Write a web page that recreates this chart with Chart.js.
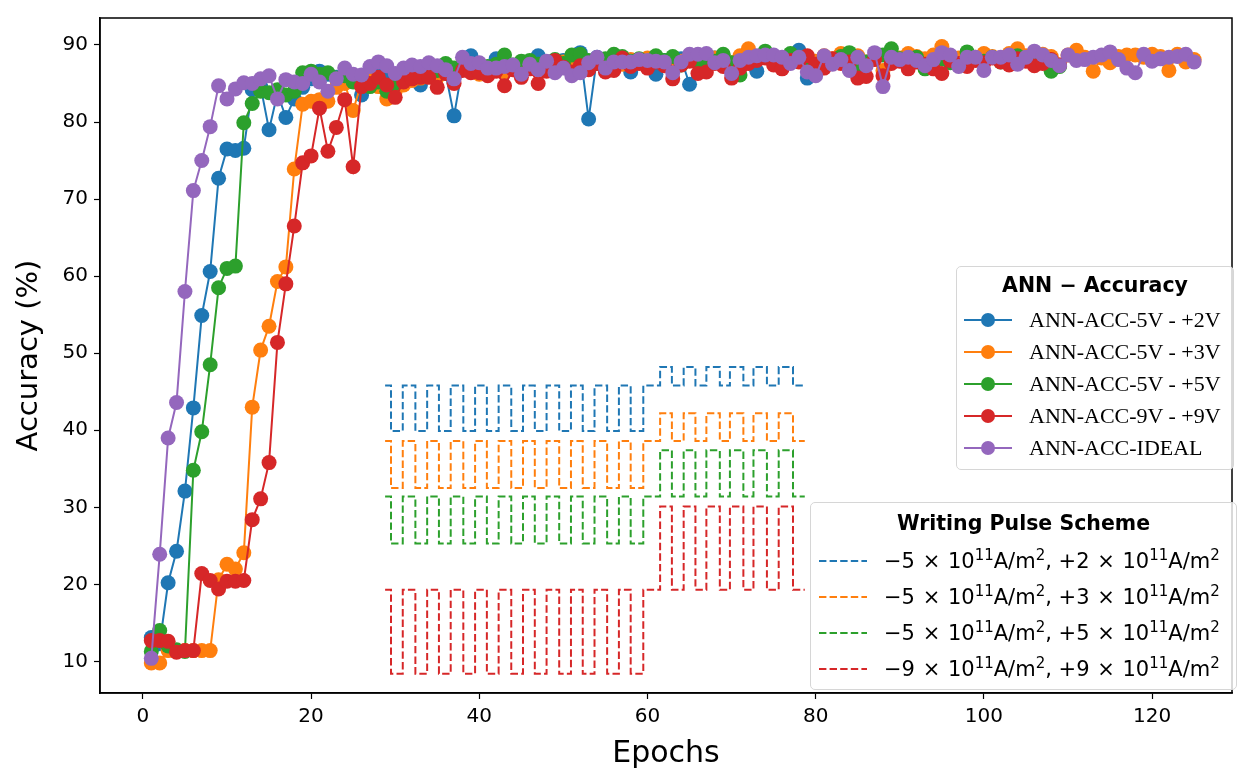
<!DOCTYPE html>
<html lang="en">
<head>
    <meta charset="UTF-8">
    <title>ANN Accuracy</title>
    <script src="https://cdn.jsdelivr.net/npm/chart.js"></script>
    <style>
        html, body { margin: 0; padding: 0; background: #fff; }
        #wrap { position: relative; width: 1243px; height: 772px; }
        #chart { position: absolute; left: 0; top: 0; }
        .legend { position: absolute; background: rgba(255,255,255,0.8); border: 1.5px solid #d6d6d6; border-radius: 5px; box-sizing: border-box; }
        .legend .title { position: absolute; left: 0; right: 0; text-align: center; font-family: "DejaVu Sans", sans-serif; font-weight: bold; font-size: 20.5px; line-height: 24px; }
        .legend .row { position: absolute; display: flex; align-items: center; white-space: nowrap; height: 30px; }
        .legend .row svg { flex: none; }
        .acc .row > span { font-family: "Liberation Serif", serif; font-size: 22px; margin-left: 17px; }
        .pulse .row > span { font-family: "DejaVu Sans", sans-serif; font-size: 21px; margin-left: 17px; }
        .pulse .x { margin: 0 1px; }
        .pulse sup { font-size: 15px; vertical-align: 8px; line-height: 0; }
    </style>
</head>
<body>
<div id="wrap">
    <canvas id="chart" width="1243" height="772"></canvas>
    <div class="legend acc" id="legAcc" style="left:956px; top:266px; width:278px; height:204px;"></div>
    <div class="legend pulse" id="legPulse" style="left:810px; top:502px; width:427px; height:188px;"></div>
</div>

<script>
    // ---- datos ----
    const xTicks = [0, 20, 40, 60, 80, 100, 120];
    const yTicks = [10, 20, 30, 40, 50, 60, 70, 80, 90];

    const seriesNames = ['ANN-ACC-5V - +2V', 'ANN-ACC-5V - +3V', 'ANN-ACC-5V - +5V', 'ANN-ACC-9V - +9V', 'ANN-ACC-IDEAL'];
    const seriesColors = ['#1f77b4', '#ff7f0e', '#2ca02c', '#d62728', '#9467bd'];

    // epoca 1..79
    const acc5v2v = [13.1, 12.3, 20.2, 24.3, 32.1, 42.9, 54.9, 60.6, 72.7, 76.5,
        76.3, 76.6, 84.2, 84.6, 79.0, 83.7, 80.6, 83.0, 84.5, 85.6,
        86.6, 86.2, 85.8, 86.3, 85.6, 83.5, 85.9, 86.3, 85.5, 85.9,
        86.2, 85.8, 84.8, 86.5, 86.8, 86.3, 80.8, 87.2, 88.6, 87.3,
        86.9, 88.2, 87.5, 87.2, 87.6, 87.0, 88.6, 87.8, 87.4, 88.0,
        87.6, 89.0, 80.4, 88.4, 87.8, 88.1, 87.6, 86.5, 88.0, 87.7,
        86.2, 88.0, 87.6, 88.2, 84.9, 88.0, 87.4, 88.3, 87.9, 87.5,
        88.2, 88.0, 86.6, 88.6, 88.2, 88.0, 88.6, 89.3, 85.7];

    // epoca 1..125
    const acc5v3v = [9.8, 9.8, 11.4, 11.3, 11.4, 11.4, 11.4, 11.4, 20.6, 22.6,
        22.0, 24.1, 43.0, 50.4, 53.5, 59.3, 61.2, 73.9, 82.3, 82.7,
        82.9, 82.7, 84.5, 85.0, 81.5, 85.2, 85.8, 84.6, 83.0, 84.0,
        84.8, 85.4, 85.7, 86.0, 85.8, 86.4, 85.9, 86.8, 86.6, 86.2,
        86.8, 87.0, 86.5, 87.2, 86.9, 87.4, 87.0, 87.6, 87.3, 87.8,
        87.2, 88.0, 87.6, 88.2, 87.7, 88.0, 87.5, 88.1, 87.8, 88.3,
        88.0, 87.6, 88.2, 87.9, 88.5, 88.0, 87.5, 88.3, 88.0, 87.7,
        88.6, 89.5, 88.2, 88.8, 88.4, 88.0, 88.6, 88.2, 88.5, 87.9,
        88.6, 88.2, 88.9, 88.3, 88.6, 87.8, 88.4, 86.7, 88.7, 88.3,
        88.9, 88.5, 88.2, 88.7, 89.8, 88.6, 88.3, 88.8, 88.4, 88.9,
        88.5, 88.3, 88.9, 89.5, 88.6, 88.3, 88.8, 88.5, 87.4, 88.7,
        89.3, 88.4, 86.6, 88.3, 87.7, 88.5, 88.7, 88.7, 88.4, 88.8,
        88.5, 86.7, 88.8, 87.8, 88.1];

    // epoca 1..109
    const acc5v5v = [11.3, 14.0, 12.0, 11.5, 11.3, 34.8, 39.8, 48.5, 58.5, 61.0,
        61.3, 79.9, 82.4, 84.0, 83.8, 84.2, 83.5, 84.0, 86.4, 86.6,
        86.2, 86.4, 85.7, 86.0, 85.2, 85.8, 84.6, 85.2, 84.0, 85.0,
        85.6, 86.1, 86.5, 86.2, 86.7, 87.6, 87.0, 87.3, 87.0, 86.8,
        87.2, 87.5, 88.7, 87.4, 87.9, 88.0, 87.5, 87.8, 88.1, 87.6,
        88.7, 88.8, 88.0, 87.6, 88.2, 88.8, 88.5, 87.9, 88.2, 87.8,
        88.6, 88.0, 88.5, 87.4, 88.0, 87.7, 88.2, 87.9, 88.8, 87.7,
        86.1, 87.8, 88.4, 89.2, 88.3, 87.9, 88.9, 88.4, 87.8, 87.2,
        88.3, 87.9, 88.5, 89.0, 87.0, 87.8, 88.4, 88.7, 89.5, 88.2,
        87.9, 88.4, 86.9, 87.7, 88.2, 87.7, 87.3, 89.1, 88.3, 87.9,
        88.4, 87.8, 88.2, 88.6, 88.0, 87.5, 88.3, 86.6, 87.2];

    // epoca 1..109
    const acc9v9v = [12.7, 12.7, 12.6, 11.2, 11.4, 11.4, 21.4, 20.5, 19.4, 20.4,
        20.4, 20.5, 28.4, 31.1, 35.8, 51.4, 59.0, 66.5, 74.7, 75.6,
        81.8, 76.2, 79.3, 82.9, 74.2, 84.6, 85.0, 85.8, 84.8, 83.2,
        85.2, 85.6, 85.8, 85.8, 84.5, 86.3, 85.0, 86.7, 86.4, 86.4,
        86.0, 86.6, 84.7, 86.8, 85.8, 86.9, 85.0, 86.6, 88.0, 87.1,
        86.5, 87.3, 86.8, 87.6, 86.5, 86.7, 88.3, 87.2, 87.6, 87.0,
        87.8, 87.3, 85.6, 87.4, 87.9, 86.3, 86.5, 87.6, 87.2, 85.7,
        87.0, 87.6, 88.0, 88.3, 87.4, 86.9, 88.0, 87.8, 88.6, 87.5,
        87.0, 88.2, 87.6, 87.8, 85.7, 85.9, 88.1, 86.0, 87.6, 87.9,
        86.9, 87.8, 87.5, 86.9, 86.3, 88.0, 87.6, 87.2, 88.0, 87.7,
        88.3, 87.8, 87.4, 88.2, 87.9, 87.3, 87.6, 88.1, 87.4];

    // epoca 1..125
    const accIdeal = [10.4, 23.9, 39.0, 43.6, 58.0, 71.1, 75.0, 79.4, 84.7, 83.0,
        84.3, 85.1, 85.0, 85.6, 86.0, 83.0, 85.5, 85.2, 85.0, 86.2,
        85.2, 84.0, 85.6, 87.0, 86.2, 86.1, 87.2, 87.8, 87.3, 86.3,
        87.0, 87.4, 87.2, 87.7, 87.3, 86.8, 85.6, 88.4, 87.6, 87.7,
        87.0, 87.0, 87.2, 87.4, 86.2, 87.5, 86.8, 87.9, 86.4, 87.0,
        86.0, 86.4, 87.7, 88.4, 87.0, 87.8, 87.8, 87.8, 88.1, 88.0,
        87.9, 87.8, 86.4, 87.8, 88.8, 88.8, 88.9, 87.7, 88.0, 86.3,
        88.0, 88.4, 88.6, 88.7, 88.7, 88.4, 87.6, 88.4, 86.5, 86.0,
        88.6, 87.5, 88.1, 86.7, 88.4, 87.3, 89.0, 84.6, 88.4, 88.1,
        88.4, 88.0, 87.3, 88.1, 89.0, 88.7, 87.2, 88.4, 88.4, 86.7,
        88.4, 88.4, 88.7, 87.5, 88.4, 89.2, 88.7, 88.0, 87.3, 88.7,
        88.0, 88.1, 88.4, 88.7, 89.1, 88.1, 87.0, 86.4, 88.8, 87.9,
        88.2, 88.4, 88.5, 88.8, 87.8];

    const seriesValues = [acc5v2v, acc5v3v, acc5v5v, acc9v9v, accIdeal];

    // esquema de pulsos: epocas de cada flanco y nivel (0 = bajo A, 1 = alto A / bajo B, 2 = alto B)
    const pulseEdges = [28.8, 29.5, 30.9, 32.4, 33.8, 35.2, 36.6, 38.1, 39.5, 40.9,
        42.3, 43.8, 45.2, 46.6, 48.0, 49.5, 50.9, 52.3, 53.7, 55.2,
        56.6, 58.0, 59.5, 61.5, 62.9, 64.3, 65.7, 67.0, 68.6, 69.8,
        71.4, 72.6, 74.2, 75.6, 77.3, 78.7];
    const pulseState = [1, 0, 1, 0, 1, 0, 1, 0, 1, 0,
        1, 0, 1, 0, 1, 0, 1, 0, 1, 0,
        1, 0, 1, 2, 1, 2, 1, 2, 1, 2,
        1, 2, 1, 2, 1, 1];
    const pulseLevelsBlue = [39.9, 45.8, 48.2];
    const pulseLevelsOrange = [32.5, 38.6, 42.2];
    const pulseLevelsGreen = [25.3, 31.4, 37.4];
    const pulseLevelsRed = [8.4, 19.3, 30.1];
    const pulseLevels = [pulseLevelsBlue, pulseLevelsOrange, pulseLevelsGreen, pulseLevelsRed];
    const pulseNeg = [5, 5, 5, 9];
    const pulsePos = [2, 3, 5, 9];

    // ---- construccion de datasets ----
    const datasets = [];
    seriesValues.forEach((vals, s) => {
        datasets.push({
            label: seriesNames[s],
            data: vals.map((v, i) => ({ x: i + 1, y: v })),
            borderColor: seriesColors[s],
            backgroundColor: seriesColors[s],
            borderWidth: 2,
            pointRadius: 7.5,
            pointBorderWidth: 0,
            pointBackgroundColor: seriesColors[s],
            order: seriesValues.length - s
        });
    });
    pulseLevels.forEach((lv, p) => {
        datasets.push({
            label: 'pulse' + p,
            data: pulseEdges.map((x, i) => ({ x: x, y: lv[pulseState[i]] })),
            borderColor: seriesColors[p],
            borderWidth: 2,
            borderDash: [7.4, 3.2],
            pointRadius: 0,
            stepped: 'before',
            order: 10
        });
    });

    const framePlugin = {
        id: 'frame',
        afterDatasetsDraw(chart) {
            const a = chart.chartArea, ctx = chart.ctx;
            ctx.save();
            ctx.strokeStyle = '#000';
            ctx.lineWidth = 1.5;
            ctx.strokeRect(a.left, a.top, a.right - a.left, a.bottom - a.top);
            ctx.restore();
        }
    };

    const tickFont = { family: 'DejaVu Sans', size: 20 };
    new Chart(document.getElementById('chart'), {
        type: 'line',
        data: { datasets: datasets },
        options: {
            responsive: false,
            animation: false,
            layout: { padding: { left: 0, right: 11, top: 12, bottom: 0 } },
            plugins: { legend: { display: false }, tooltip: { enabled: false } },
            scales: {
                x: {
                    type: 'linear', min: -5.1, max: 129.5,
                    afterBuildTicks: s => { s.ticks = xTicks.map(v => ({ value: v })); },
                    afterFit: s => { s.height = 79; },
                    ticks: { font: tickFont, color: '#000', padding: 6 },
                    grid: { drawOnChartArea: false, color: '#000', tickLength: 6, tickWidth: 1.2 },
                    border: { color: '#000', width: 1.5 },
                    title: { display: true, text: 'Epochs', color: '#000', font: { family: 'DejaVu Sans', size: 30 }, padding: { top: 0, bottom: 0 } }
                },
                y: {
                    type: 'linear', min: 5.9, max: 93.5,
                    afterBuildTicks: s => { s.ticks = yTicks.map(v => ({ value: v })); },
                    afterFit: s => { s.width = 100; },
                    ticks: { font: tickFont, color: '#000', padding: 6 },
                    grid: { drawOnChartArea: false, color: '#000', tickLength: 6, tickWidth: 1.2 },
                    border: { color: '#000', width: 1.5 },
                    title: { display: true, text: 'Accuracy (%)', color: '#000', font: { family: 'DejaVu Sans', size: 29 }, padding: { top: 12, bottom: 0 } }
                }
            }
        },
        plugins: [framePlugin]
    });

    // ---- leyendas ----
    const legAcc = document.getElementById('legAcc');
    legAcc.innerHTML = '<div class="title" style="top:6px">ANN \u2212 Accuracy</div>';
    seriesNames.forEach((name, i) => {
        const c = seriesColors[i];
        legAcc.innerHTML += '<div class="row" style="left:7px; top:' + (38 + i * 32) + 'px">' +
            '<svg width="48" height="20"><line x1="0" y1="10" x2="48" y2="10" stroke="' + c + '" stroke-width="2"/>' +
            '<circle cx="24" cy="10" r="7" fill="' + c + '"/></svg><span>' + name + '</span></div>';
    });

    const legPulse = document.getElementById('legPulse');
    legPulse.innerHTML = '<div class="title" style="top:8px">Writing Pulse Scheme</div>';
    pulseNeg.forEach((n, i) => {
        const c = seriesColors[i];
        const txt = '\u2212' + n + ' <span class="x">\u00d7</span> 10<sup>11</sup>A/m<sup>2</sup>, +' + pulsePos[i] +
            ' <span class="x">\u00d7</span> 10<sup>11</sup>A/m<sup>2</sup>';
        legPulse.innerHTML += '<div class="row" style="left:8px; top:' + (43 + i * 36) + 'px">' +
            '<svg width="48" height="20"><line x1="0" y1="10" x2="48" y2="10" stroke="' + c + '" stroke-width="2" stroke-dasharray="7.4 3.2"/></svg>' +
            '<span>' + txt + '</span></div>';
    });
</script>
</body>
</html>
